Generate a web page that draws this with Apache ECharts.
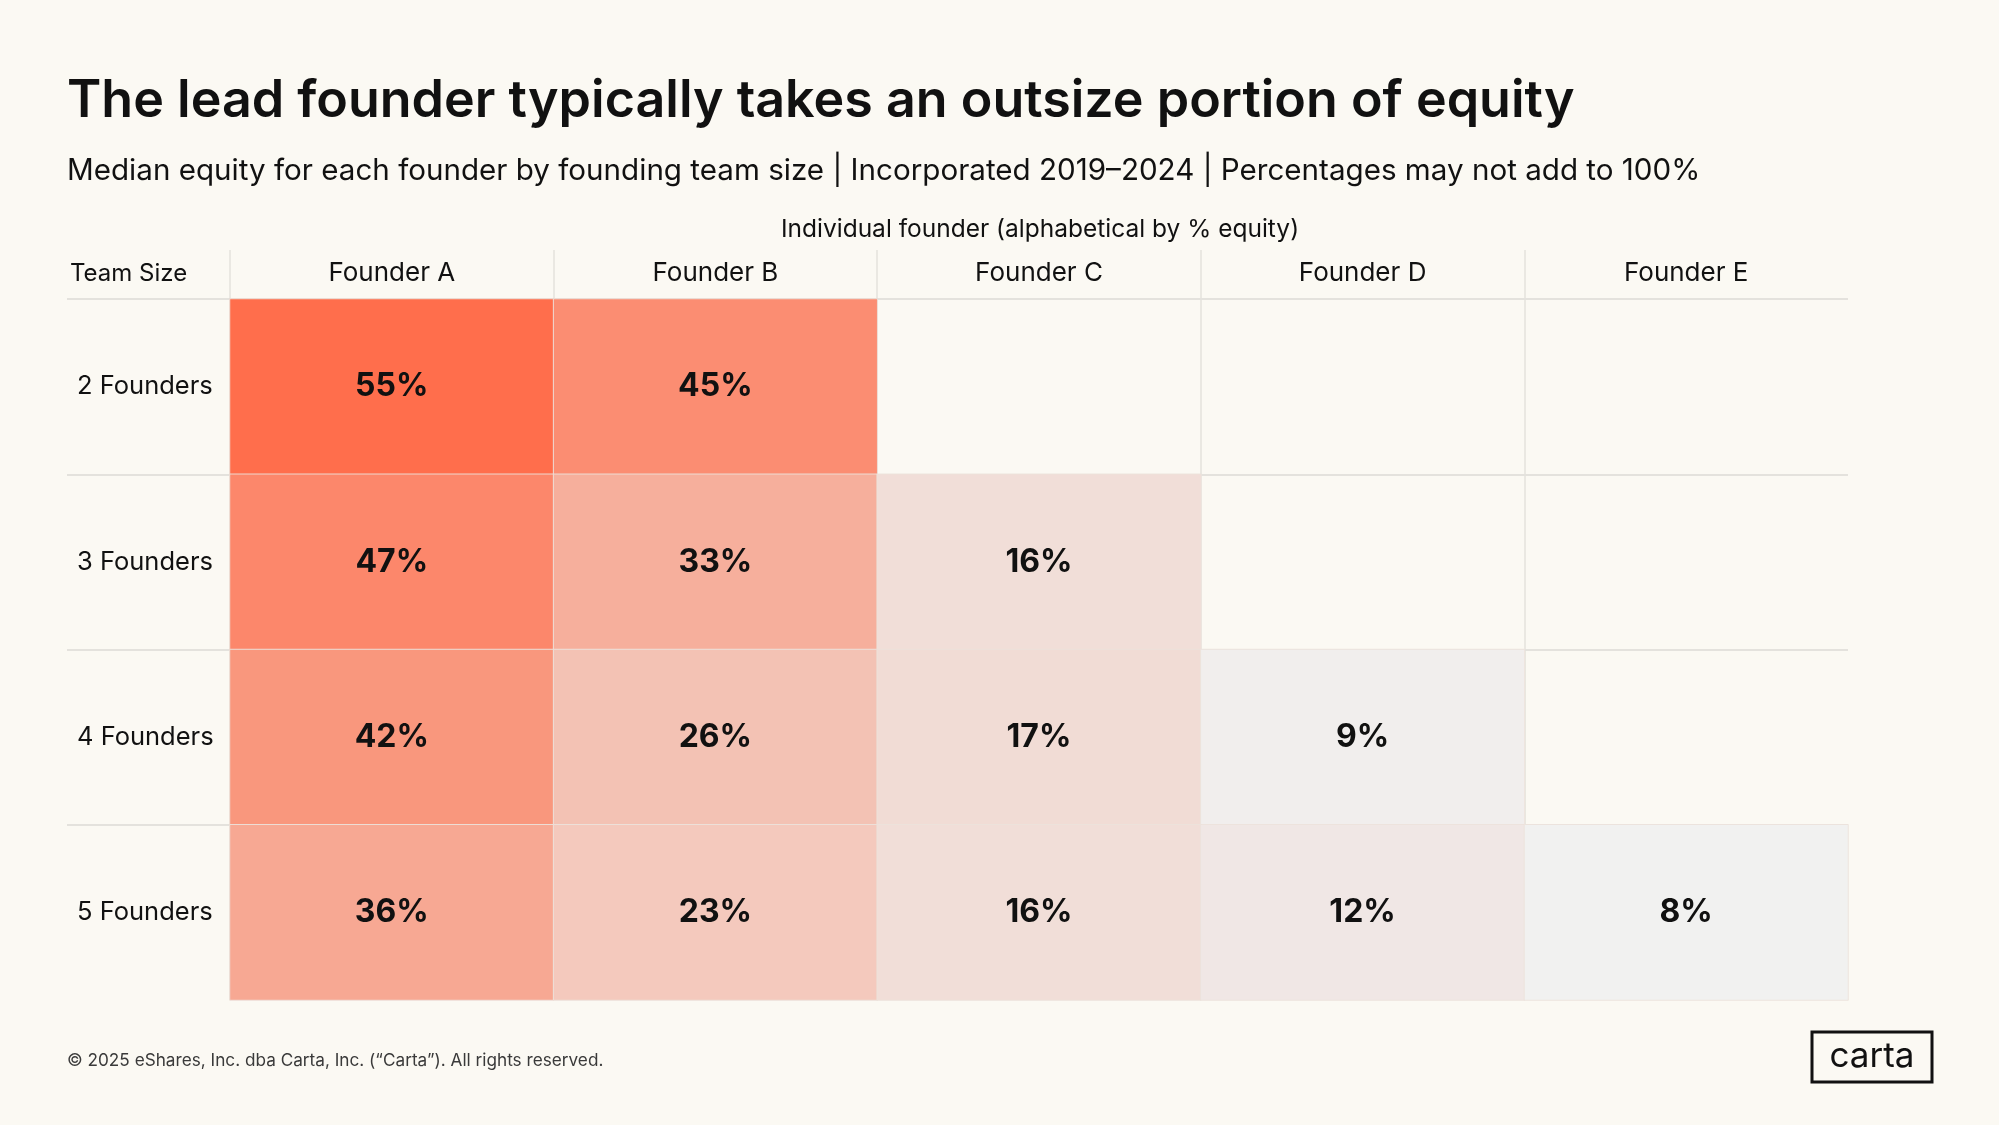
<!DOCTYPE html>
<html>
<head>
<meta charset="utf-8">
<title>Founder equity by team size</title>
<script src="https://cdn.jsdelivr.net/npm/echarts@6/dist/echarts.min.js"></script>
<style>
    html, body { margin: 0; padding: 0; background: #fbf9f3; }
    #chart { width: 1999px; height: 1125px; }
</style>
</head>
<body>
<div id="chart"></div>
<script>
    // columns and rows of the table
    var founders = ['Founder A', 'Founder B', 'Founder C', 'Founder D', 'Founder E'];
    var teamSizes = ['2 Founders', '3 Founders', '4 Founders', '5 Founders'];

    // median equity (%) per founder, one list per team size
    var equity2Founders = [55, 45];
    var equity3Founders = [47, 33, 16];
    var equity4Founders = [42, 26, 17, 9];
    var equity5Founders = [36, 23, 16, 12, 8];

    var rows = [equity2Founders, equity3Founders, equity4Founders, equity5Founders];
    var cells = [];
    rows.forEach(function(list, y) {
        list.forEach(function(v, x) {
            cells.push([x, y, v]);
        });
    });

    var FONT = 'Inter, "Noto Sans", sans-serif';
    var INK = '#111111';
    var LINE = '#e4e2dd';

    var chart = echarts.init(document.getElementById('chart'));
    var option = {
        backgroundColor: '#fbf9f3',
        animation: false,
        textStyle: { fontFamily: FONT },
        grid: [
            // heatmap
            { left: 230, right: 151, top: 299, bottom: 125 },
            // horizontal rules, reaching into the label column
            { left: 67, right: 151, top: 299, bottom: 125 },
            // vertical rules, reaching into the header row
            { left: 230, right: 151, top: 250, bottom: 125 }
        ],
        xAxis: [{
            gridIndex: 0,
            type: 'category',
            data: founders,
            position: 'top',
            axisLine: { show: false },
            axisTick: { show: false },
            splitLine: { show: false },
            axisLabel: { interval: 0, margin: 13, fontSize: 26, color: INK, fontFamily: FONT }
        }, {
            gridIndex: 1,
            type: 'category',
            data: founders,
            show: false
        }, {
            gridIndex: 2,
            type: 'category',
            data: founders,
            axisLine: { show: false },
            axisTick: { show: false },
            axisLabel: { show: false },
            splitLine: {
                show: true,
                interval: 0,
                showMaxLine: false,
                lineStyle: { color: LINE, width: 1.5 }
            }
        }],
        yAxis: [{
            gridIndex: 0,
            type: 'category',
            data: teamSizes,
            inverse: true,
            axisLine: { show: false },
            axisTick: { show: false },
            splitLine: { show: false },
            axisLabel: { align: 'left', margin: 153, fontSize: 25.5, color: INK, fontFamily: FONT }
        }, {
            gridIndex: 1,
            type: 'category',
            data: teamSizes,
            inverse: true,
            axisLine: { show: false },
            axisTick: { show: false },
            axisLabel: { show: false },
            splitLine: {
                show: true,
                interval: 0,
                showMaxLine: false,
                lineStyle: { color: LINE, width: 2 }
            }
        }, {
            gridIndex: 2,
            type: 'category',
            data: ['header'].concat(teamSizes),
            show: false
        }],
        visualMap: {
            show: false,
            type: 'continuous',
            dimension: 2,
            seriesIndex: 0,
            min: 8,
            max: 55,
            inRange: {
                color: ['#f1f1f0', '#f0e5e3', '#f1dbd4', '#f4cbc0', '#f3c0b1', '#f6b3a0',
                    '#f7a892', '#f99b81', '#fb8b70', '#fd7d5e', '#ff6e4c']
            }
        },
        series: [{
            type: 'heatmap',
            xAxisIndex: 0,
            yAxisIndex: 0,
            data: cells,
            itemStyle: { borderColor: 'rgba(236,226,220,0.9)', borderWidth: 1 },
            label: {
                show: true,
                fontSize: 32,
                fontWeight: 'bold',
                color: INK,
                fontFamily: FONT,
                formatter: function(p) { return p.value[2] + '%'; }
            },
            emphasis: { disabled: true }
        }],
        graphic: [{
            type: 'text', x: 67, y: 101,
            style: { text: 'The lead founder typically takes an outsize portion of equity',
                fontSize: 52, fontWeight: 600, fontFamily: FONT, fill: INK, verticalAlign: 'middle' }
        }, {
            type: 'text', x: 67, y: 171,
            style: { text: 'Median equity for each founder by founding team size | Incorporated 2019\u20132024 | Percentages may not add to 100%',
                fontSize: 29.6, fontFamily: FONT, fill: INK, verticalAlign: 'middle' }
        }, {
            type: 'text', x: 1040, y: 230,
            style: { text: 'Individual founder (alphabetical by % equity)',
                fontSize: 24.5, fontFamily: FONT, fill: INK, align: 'center', verticalAlign: 'middle' }
        }, {
            type: 'text', x: 70, y: 274,
            style: { text: 'Team Size', fontSize: 24, fontFamily: FONT, fill: INK, verticalAlign: 'middle' }
        }, {
            type: 'text', x: 67, y: 1061,
            style: { text: '\u00a9 2025 eShares, Inc. dba Carta, Inc. (\u201cCarta\u201d). All rights reserved.',
                fontSize: 17.2, fontFamily: FONT, fill: '#3a3a3a', verticalAlign: 'middle' }
        }, {
            type: 'rect',
            shape: { x: 1812, y: 1032, width: 120, height: 50 },
            style: { fill: 'none', stroke: INK, lineWidth: 3 }
        }, {
            type: 'text', x: 1872, y: 1056,
            style: { text: 'carta', fontSize: 35, fontWeight: 400, fontFamily: FONT, fill: INK,
                align: 'center', verticalAlign: 'middle' }
        }]
    };
    chart.setOption(option);
</script>
</body>
</html>
